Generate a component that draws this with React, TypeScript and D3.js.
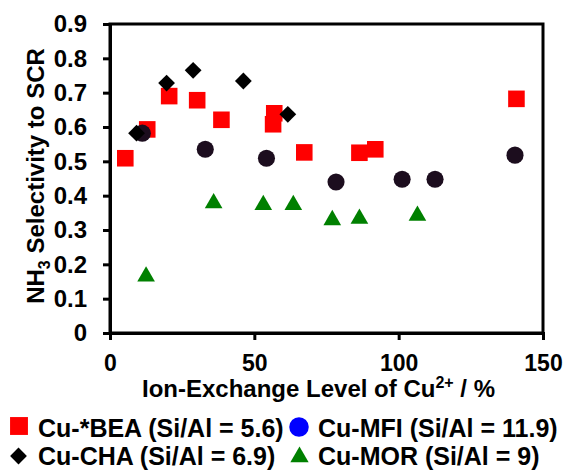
import React, { useEffect, useRef } from 'react';
import * as d3 from 'd3';

// ion-exchange level (%) and NH3 selectivity
const beaX = [5.3, 12.9, 20.5, 30.2, 38.6, 56.9, 56.5, 67.3, 86.4, 91.9, 140.8];
const beaY = [0.509, 0.593, 0.69, 0.678, 0.621, 0.64, 0.608, 0.526, 0.525, 0.535, 0.682];
const mfiX = [11.2, 33.0, 54.2, 78.3, 101.2, 112.6, 140.3];
const mfiY = [0.582, 0.535, 0.509, 0.44, 0.448, 0.448, 0.518];
const chaX = [9.2, 19.6, 28.8, 46.2, 61.6];
const chaY = [0.582, 0.728, 0.765, 0.734, 0.637];
const morX = [12.5, 35.9, 53.1, 63.5, 77.0, 86.4, 106.5];
const morY = [0.165, 0.378, 0.373, 0.373, 0.329, 0.333, 0.342];

const xTicks = [0, 50, 100, 150];
const yTicks = [0, 0.1, 0.2, 0.3, 0.4, 0.5, 0.6, 0.7, 0.8, 0.9];

const legendLabels = [
  'Cu-*BEA (Si/Al = 5.6)',
  'Cu-MFI (Si/Al = 11.9)',
  'Cu-CHA (Si/Al = 6.9)',
  'Cu-MOR (Si/Al = 9)',
];

const FONT = '"Liberation Sans", Arial, sans-serif';

export default function App() {
  const ref = useRef<SVGSVGElement>(null);

  useEffect(() => {
    const svg = d3.select(ref.current);
    svg.selectAll('*').remove();

    const left = 110, right = 543, top = 24, bottom = 333;
    const x = d3.scaleLinear().domain([0, 150]).range([left, right]);
    const y = d3.scaleLinear().domain([0, 0.9]).range([bottom, top]);

    // frame
    svg.append('rect')
      .attr('x', left).attr('y', top)
      .attr('width', right - left).attr('height', bottom - top)
      .attr('fill', 'none').attr('stroke', '#000').attr('stroke-width', 3);

    const yAxis = svg.append('g')
      .attr('transform', `translate(${left},0)`)
      .call(d3.axisLeft(y).tickValues(yTicks).tickSize(7).tickPadding(16)
        .tickFormat((d) => (d === 0 ? '0' : d3.format('.1f')(d as number))));
    const xAxis = svg.append('g')
      .attr('transform', `translate(0,${bottom})`)
      .call(d3.axisBottom(x).tickValues(xTicks).tickSize(7).tickPadding(15)
        .tickFormat(d3.format('d')));

    [xAxis, yAxis].forEach((ax, i) => {
      ax.select('.domain').attr('stroke-width', 3);
      ax.selectAll('.tick line').attr('stroke-width', 3);
      ax.selectAll('.tick text')
        .attr('font-family', FONT).attr('font-size', i === 0 ? 23 : 24)
        .attr('font-weight', 'bold').attr('fill', '#000');
    });

    // axis titles
    const yt = svg.append('text')
      .attr('transform', 'translate(44,176) rotate(-90)')
      .attr('text-anchor', 'middle')
      .attr('font-family', FONT).attr('font-size', 24).attr('font-weight', 'bold');
    yt.append('tspan').text('NH');
    yt.append('tspan').attr('font-size', 16).attr('dy', 6).text('3');
    yt.append('tspan').attr('dy', -6).text(' Selectivity to SCR');

    const xt = svg.append('text')
      .attr('x', 142).attr('y', 397)
      .attr('font-family', FONT).attr('font-size', 24).attr('font-weight', 'bold');
    xt.append('tspan').text('Ion-Exchange Level of Cu');
    xt.append('tspan').attr('font-size', 16).attr('dy', -9).text('2+');
    xt.append('tspan').attr('dy', 9).text(' / %');

    const sq = d3.symbol().type(d3.symbolSquare).size(275);
    const circ = d3.symbol().type(d3.symbolCircle).size(230);
    const diam = d3.symbol().type(d3.symbolDiamond2).size(180);
    const tri = d3.symbol().type(d3.symbolTriangle).size(135);

    const plot = svg.append('g');
    const series = [
      { xs: beaX, ys: beaY, path: sq, fill: '#ff0000' },
      { xs: mfiX, ys: mfiY, path: circ, fill: '#1c0d1e' },
      { xs: chaX, ys: chaY, path: diam, fill: '#000000' },
      { xs: morX, ys: morY, path: tri, fill: '#008000' },
    ];
    series.forEach((s) => {
      plot.selectAll(null)
        .data(s.xs.map((v, i) => [v, s.ys[i]]))
        .enter()
        .append('path')
        .attr('d', s.path as any)
        .attr('transform', (d) => `translate(${x(d[0])},${y(d[1])})`)
        .attr('fill', s.fill);
    });

    // legend
    const legend = [
      { cx: 19, cy: 426, path: d3.symbol().type(d3.symbolSquare).size(320), fill: '#ff0000', tx: 38 },
      { cx: 299, cy: 427, path: d3.symbol().type(d3.symbolCircle).size(300), fill: '#0000ff', tx: 318 },
      { cx: 18.5, cy: 456, path: diam, fill: '#000000', tx: 38 },
      { cx: 299.5, cy: 457, path: d3.symbol().type(d3.symbolTriangle).size(145), fill: '#008000', tx: 318 },
    ];
    legend.forEach((l, i) => {
      svg.append('path')
        .attr('d', l.path as any)
        .attr('transform', `translate(${l.cx},${l.cy})`)
        .attr('fill', l.fill);
      svg.append('text')
        .attr('x', l.tx).attr('y', i < 2 ? 437 : 465)
        .attr('font-family', FONT).attr('font-size', 25).attr('font-weight', 'bold')
        .text(legendLabels[i]);
    });
  }, []);

  return (
    <svg ref={ref} width={565} height={470}
      style={{ position: 'absolute', left: 0, top: 0, background: '#fff' }} />
  );
}
